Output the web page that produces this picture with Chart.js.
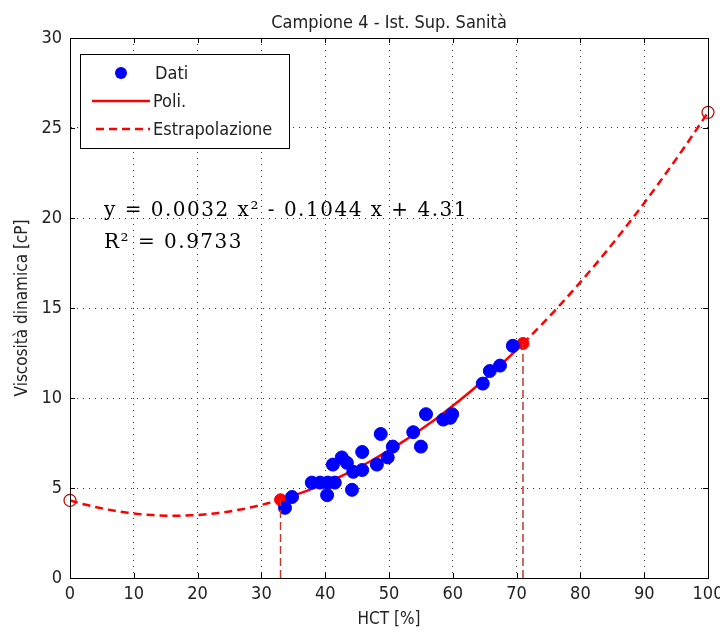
<!DOCTYPE html>
<html>
<head>
<meta charset="utf-8">
<script src="https://cdn.jsdelivr.net/npm/chart.js@4"></script>
<style>
  html, body { margin: 0; padding: 0; background: #fff; }
  #wrap { width: 720px; height: 634px; }
</style>
</head>
<body>
<div id="wrap"><canvas id="myChart" width="720" height="634"></canvas></div>
<script>
// Measured points: HCT [%] and viscosity [cP]
var hct = [33.7, 34.8, 37.9, 39.2, 40.3, 40.4, 41.5, 41.2, 42.6, 43.4, 44.2, 44.4, 45.8, 45.8,
           48.1, 48.7, 49.8, 50.6, 53.8, 55.0, 55.8, 58.5, 59.6, 59.9, 64.7, 65.8, 67.4, 69.4];
var viscosity = [3.9, 4.5, 5.3, 5.3, 4.6, 5.3, 5.3, 6.3, 6.7, 6.4, 4.9, 5.9, 7.0, 6.0,
                 6.3, 8.0, 6.7, 7.3, 8.1, 7.3, 9.1, 8.8, 8.9, 9.1, 10.8, 11.5, 11.8, 12.9];

// Quadratic fit y = a x^2 + b x + c
var fitCoeffs = [0.0032, -0.1044, 4.31];
var fitR2 = 0.9733;
var fitRange = [33, 71];       // range covered by the data
var extrapRange = [0, 100];    // full extrapolation range

var xTicks = [0, 10, 20, 30, 40, 50, 60, 70, 80, 90, 100];
var yTicks = [0, 5, 10, 15, 20, 25, 30];

function poly(x) {
    return fitCoeffs[0] * x * x + fitCoeffs[1] * x + fitCoeffs[2];
}

function curve(from, to) {
    var pts = [];
    for (var x = from; x <= to; x++) {
        pts.push({x: x, y: poly(x)});
    }
    return pts;
}

var dati = hct.map(function (v, i) { return {x: v, y: viscosity[i]}; });

var red = '#ff0000';
var sansFamily = '"DejaVu Sans Condensed", "Liberation Sans", Arial';

// Plot box, inward ticks, title, legend and fit annotation
var decorations = {
    id: 'decorations',
    afterDatasetsDraw: function (chart) {
        var ctx = chart.ctx;
        var a = chart.chartArea;
        var sx = chart.scales.x, sy = chart.scales.y;
        ctx.save();

        // box
        ctx.strokeStyle = '#000';
        ctx.lineWidth = 1;
        ctx.strokeRect(a.left + 0.5, a.top + 0.5, a.right - a.left, a.bottom - a.top);

        // inward ticks on all sides
        ctx.beginPath();
        xTicks.forEach(function (t) {
            var px = Math.round(sx.getPixelForValue(t)) + 0.5;
            ctx.moveTo(px, a.bottom); ctx.lineTo(px, a.bottom - 5);
            ctx.moveTo(px, a.top); ctx.lineTo(px, a.top + 5);
        });
        yTicks.forEach(function (t) {
            var py = Math.round(sy.getPixelForValue(t)) + 0.5;
            ctx.moveTo(a.left, py); ctx.lineTo(a.left + 5, py);
            ctx.moveTo(a.right, py); ctx.lineTo(a.right - 5, py);
        });
        ctx.stroke();

        // title
        ctx.fillStyle = '#222';
        ctx.font = '18px ' + sansFamily;
        ctx.textAlign = 'center';
        ctx.textBaseline = 'alphabetic';
        ctx.fillText('Campione 4 - Ist. Sup. Sanità', (a.left + a.right) / 2, 28);

        // legend
        var lx = 80, ly = 54, lw = 209, lh = 94;
        ctx.fillStyle = '#fff';
        ctx.fillRect(lx, ly, lw, lh);
        ctx.strokeStyle = '#000';
        ctx.lineWidth = 1;
        ctx.strokeRect(lx + 0.5, ly + 0.5, lw, lh);

        ctx.fillStyle = '#0000ff';
        ctx.beginPath();
        ctx.arc(121, 73, 6, 0, Math.PI * 2);
        ctx.fill();

        ctx.strokeStyle = red;
        ctx.lineWidth = 2.5;
        ctx.beginPath();
        ctx.moveTo(92, 101); ctx.lineTo(150, 101);
        ctx.stroke();
        ctx.setLineDash([8, 5]);
        ctx.beginPath();
        ctx.moveTo(96, 129); ctx.lineTo(150, 129);
        ctx.stroke();
        ctx.setLineDash([]);

        ctx.fillStyle = '#222';
        ctx.font = '18px ' + sansFamily;
        ctx.textAlign = 'left';
        ctx.textBaseline = 'middle';
        ctx.fillText('Dati', 155, 74);
        ctx.fillText('Poli.', 153, 102);
        ctx.fillText('Estrapolazione', 153, 130);

        // fit annotation
        ctx.font = '20px "DejaVu Serif", serif';
        ctx.letterSpacing = '1.5px';
        ctx.textBaseline = 'alphabetic';
        ctx.fillStyle = '#000';
        ctx.fillText('y = ' + fitCoeffs[0].toFixed(4) + ' x² - ' + Math.abs(fitCoeffs[1]).toFixed(4) +
                     ' x + ' + fitCoeffs[2].toFixed(2), 104, 216);
        ctx.fillText('R² = ' + fitR2.toFixed(4), 104, 248);

        ctx.restore();
    }
};

var tickFont = {family: sansFamily, size: 18};
var titleFont = {family: sansFamily, size: 17};

var ctx = document.getElementById('myChart').getContext('2d');
var myChart = new Chart(ctx, {
    type: 'scatter',
    data: {
        datasets: [
            {
                label: 'Estrapolazione',
                data: curve(extrapRange[0], fitRange[0]),
                showLine: true, borderColor: red, borderWidth: 2.5,
                borderDash: [8, 5], pointRadius: 0, tension: 0
            },
            {
                label: 'Estrapolazione',
                data: curve(fitRange[1], extrapRange[1]),
                showLine: true, borderColor: red, borderWidth: 2.5,
                borderDash: [8, 5], pointRadius: 0, tension: 0
            },
            {
                label: 'Limite',
                data: [{x: fitRange[0], y: 0}, {x: fitRange[0], y: poly(fitRange[0])}],
                showLine: true, borderColor: '#c0392b', borderWidth: 1.5,
                borderDash: [8, 4], pointRadius: 0
            },
            {
                label: 'Limite',
                data: [{x: fitRange[1], y: 0}, {x: fitRange[1], y: poly(fitRange[1])}],
                showLine: true, borderColor: '#c0392b', borderWidth: 1.5,
                borderDash: [8, 4], pointRadius: 0
            },
            {
                label: 'Dati',
                data: dati,
                backgroundColor: '#0000ff', borderColor: '#0000ff',
                pointRadius: 6.5, pointHoverRadius: 6.5
            },
            {
                label: 'Poli.',
                data: curve(fitRange[0], fitRange[1]),
                showLine: true, borderColor: red, borderWidth: 2.5,
                pointRadius: 0, tension: 0
            },
            {
                label: 'Estremi',
                data: [{x: fitRange[0], y: poly(fitRange[0])}, {x: fitRange[1], y: poly(fitRange[1])}],
                backgroundColor: red, borderColor: red, pointRadius: 6
            },
            {
                label: 'Estremi estrapolati',
                data: [{x: extrapRange[0], y: poly(extrapRange[0])}, {x: extrapRange[1], y: poly(extrapRange[1])}],
                backgroundColor: 'rgba(0,0,0,0)', borderColor: '#c00000',
                borderWidth: 1.2, pointRadius: 6, clip: false
            }
        ]
    },
    options: {
        responsive: false,
        animation: false,
        layout: {padding: {top: 38, right: 12, left: 0, bottom: 0}},
        plugins: {
            legend: {display: false},
            tooltip: {enabled: false}
        },
        scales: {
            x: {
                type: 'linear', min: 0, max: 100,
                afterFit: function (s) {
                    s.height = 56;
                    s.paddingLeft = 0;
                    s.paddingRight = 0;
                },
                afterBuildTicks: function (s) { s.ticks = xTicks.map(function (v) { return {value: v}; }); },
                grid: {color: '#333', lineWidth: 1, drawTicks: false},
                border: {display: true, color: '#000', dash: [1, 5]},
                ticks: {color: '#222', font: tickFont, padding: 6, maxRotation: 0},
                title: {display: true, text: 'HCT [%]', color: '#222', font: titleFont, padding: {top: 0}}
            },
            y: {
                type: 'linear', min: 0, max: 30,
                afterFit: function (s) {
                    s.width = 70;
                    s.paddingTop = 0;
                    s.paddingBottom = 0;
                },
                afterBuildTicks: function (s) { s.ticks = yTicks.map(function (v) { return {value: v}; }); },
                grid: {color: '#333', lineWidth: 1, drawTicks: false},
                border: {display: true, color: '#000', dash: [1, 5]},
                ticks: {color: '#222', font: tickFont, padding: 8},
                title: {display: true, text: 'Viscosità dinamica [cP]', color: '#222', font: titleFont, padding: {top: 12, bottom: 0}}
            }
        }
    },
    plugins: [decorations]
});
</script>
</body>
</html>
